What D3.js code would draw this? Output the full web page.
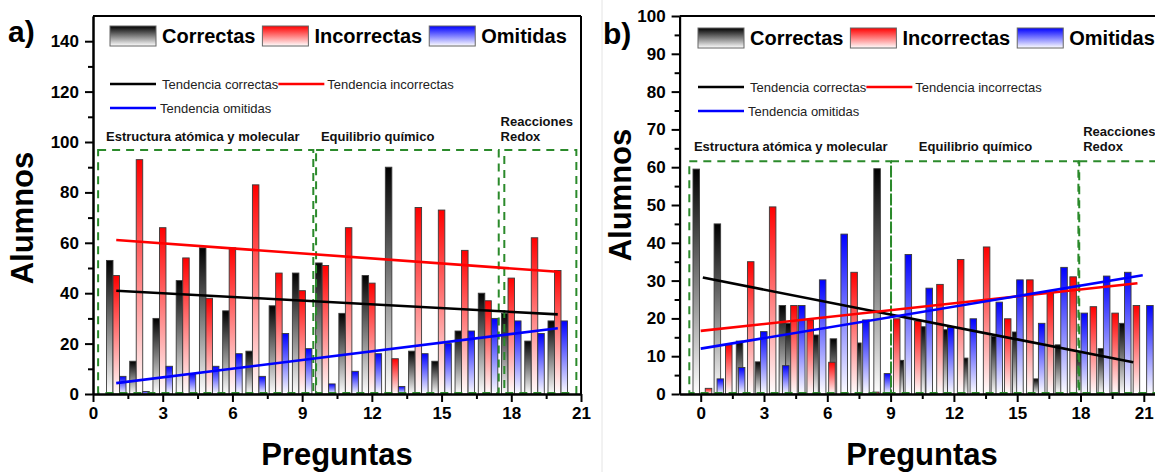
<!DOCTYPE html>
<html>
<head>
<meta charset="utf-8">
<script src="https://cdn.jsdelivr.net/npm/d3@7"></script>
<style>
body { margin: 0; background: #fff; }
svg { display: block; }
text { font-family: Arial, "Liberation Sans", sans-serif; }
</style>
</head>
<body>
<div id="chart"></div>
<script>
// ---- data ----
const seriesNames = ["Correctas", "Incorrectas", "Omitidas"];
const trendNames = ["Tendencia correctas", "Tendencia incorrectas", "Tendencia omitidas"];
const sectionNames = [["Estructura atómica y molecular"], ["Equilibrio químico"], ["Reacciones", "Redox"]];

const xTicks = [0, 3, 6, 9, 12, 15, 18, 21];
const xMinorTicks = [1.5, 4.5, 7.5, 10.5, 13.5, 16.5, 19.5];
const aYTicks = [0, 20, 40, 60, 80, 100, 120, 140];
const aYMinorTicks = [10, 30, 50, 70, 90, 110, 130];
const bYTicks = [0, 10, 20, 30, 40, 50, 60, 70, 80, 90, 100];
const bYMinorTicks = [5, 15, 25, 35, 45, 55, 65, 75, 85, 95];

// panel a) questions 1..20
const aQuestions = [1, 2, 3, 4, 5, 6, 7, 8, 9, 10, 11, 12, 13, 14, 15, 16, 17, 18, 19, 20];
const aCorrectas = [53, 13, 30, 45, 58, 33, 17, 35, 48, 52, 32, 47, 90, 17, 13, 25, 40, 32, 21, 29];
const aIncorrectas = [47, 93, 66, 54, 38, 58, 83, 48, 41, 51, 66, 44, 14, 74, 73, 57, 37, 46, 62, 49];
const aOmitidas = [7, 1, 11, 8, 11, 16, 7, 24, 18, 4, 9, 16, 3, 16, 20, 25, 30, 29, 24, 29];

const aTrendX = [1, 20];
const aTrendCorrectas = [41, 31.6];
const aTrendIncorrectas = [61.1, 48.5];
const aTrendOmitidas = [4.3, 26.1];

const aSectionStart = [0.22, 9.6, 17.7];
const aSectionEnd = [9.48, 17.46, 20.8];
const aSectionTop = [96.8, 96.8, 96.8];

// panel b) bar positions are irregular in the original
const bCorrectasX = [-0.21, 0.79, 1.84, 2.74, 3.87, 4.18, 5.42, 6.29, 7.45, 8.36, 9.46, 10.49, 11.55, 12.51, 13.92, 14.93, 15.92, 16.95, 17.9, 18.99, 20.0];
const bCorrectas = [59.5, 45, 14, 8.5, 23.4, 18.7, 15.6, 14.6, 13.5, 59.6, 8.9, 17.8, 17, 9.5, 15.2, 16.4, 4, 13, 10.8, 12, 18.7];
const bIncorrectasX = [0.37, 1.33, 2.37, 3.41, 4.42, 5.19, 6.22, 7.27, 8.3, 9.29, 10.29, 11.34, 12.32, 13.55, 14.55, 15.6, 16.57, 17.65, 18.61, 19.64, 20.65];
const bIncorrectas = [1.5, 13, 35, 49.5, 23.4, 19.6, 8.4, 32.2, 0.5, 19.9, 19.3, 29, 35.6, 38.9, 19.9, 30.2, 26.6, 31, 23.1, 21.4, 23.4];
const bOmitidasX = [0.93, 1.94, 2.99, 4.03, 4.79, 5.78, 6.8, 7.83, 8.85, 9.84, 10.83, 11.85, 12.92, 14.15, 15.13, 16.16, 17.22, 18.18, 19.24, 20.24, 21.29];
const bOmitidas = [4, 7, 16.5, 7.5, 23.4, 30.2, 42.3, 19.6, 5.4, 36.9, 28, 17.6, 19.9, 24.3, 30.2, 18.7, 33.5, 21.4, 31.2, 32.2, 23.4];

const bTrendCorrectasX = [0.1, 20.5];
const bTrendCorrectas = [30.8, 8.4];
const bTrendIncorrectasX = [0, 20.7];
const bTrendIncorrectas = [16.7, 29.3];
const bTrendOmitidasX = [0, 20.95];
const bTrendOmitidas = [12, 31.4];

const bSectionStart = [-0.54, 9.02, 17.94];
const bSectionEnd = [9.02, 17.9, 22];
const bSectionTop = [61.6, 61.6, 61.6];

// ---- styles ----
const seriesColors = ["#000000", "#ff0000", "#0000ff"];
const trendColors = ["#000000", "#ff0000", "#0000ff"];
const boxColor = "#2b8a2b";

const svg = d3.select("#chart")
.append("svg")
.attr("width", 1155)
.attr("height", 472);

// vertical gradients, colour at top fading to white
const defs = svg.append("defs");
seriesColors.forEach((c, i) => {
    const grad = defs.append("linearGradient")
    .attr("id", "grad" + i)
    .attr("x1", 0).attr("y1", 0).attr("x2", 0).attr("y2", 1);
    grad.append("stop").attr("offset", "0%").attr("stop-color", c);
    grad.append("stop").attr("offset", "100%").attr("stop-color", "#ffffff");
});

// faint border of the second picture
svg.append("line")
.attr("x1", 602).attr("x2", 602).attr("y1", 0).attr("y2", 472)
.attr("stroke", "#e4e4e4").attr("stroke-width", 1);

const panels = [
    {
        tag: "a)", tagX: 8, tagY: 42,
        left: 93, right: 581, top: 16, bottom: 394,
        xDomain: [0, 21], yDomain: [0, 150],
        yTicks: aYTicks, yMinor: aYMinorTicks, rightFrame: true,
        barWidth: 0.28,
        bars: [
            {xs: aQuestions.map(q => q - 0.28), vals: aCorrectas},
            {xs: aQuestions, vals: aIncorrectas},
            {xs: aQuestions.map(q => q + 0.28), vals: aOmitidas}
        ],
        trends: [
            {xs: aTrendX, vals: aTrendCorrectas},
            {xs: aTrendX, vals: aTrendIncorrectas},
            {xs: aTrendX, vals: aTrendOmitidas}
        ],
        secStart: aSectionStart, secEnd: aSectionEnd, secTop: aSectionTop,
        secLabelX: [0.56, 9.81, 17.54], secLabelGap: 9,
        legendX: 110, legendY: 26, trendY: 84,
        yTitleX: 33, yTitleY: 218, xTitleX: 337
    },
    {
        tag: "b)", tagX: 603, tagY: 44,
        left: 679.6, right: 1164.9, top: 16, bottom: 394,
        xDomain: [-1, 22], yDomain: [0, 100],
        yTicks: bYTicks, yMinor: bYMinorTicks, rightFrame: false,
        barWidth: 0.31,
        bars: [
            {xs: bCorrectasX, vals: bCorrectas},
            {xs: bIncorrectasX, vals: bIncorrectas},
            {xs: bOmitidasX, vals: bOmitidas}
        ],
        trends: [
            {xs: bTrendCorrectasX, vals: bTrendCorrectas},
            {xs: bTrendIncorrectasX, vals: bTrendIncorrectas},
            {xs: bTrendOmitidasX, vals: bTrendOmitidas}
        ],
        secStart: bSectionStart, secEnd: bSectionEnd, secTop: bSectionTop,
        secLabelX: [-0.32, 10.34, 18.13], secLabelGap: 10,
        legendX: 698, legendY: 28, trendY: 87,
        yTitleX: 631, yTitleY: 195, xTitleX: 922
    }
];

panels.forEach(drawPanel);

function drawPanel(p) {
    const x = d3.scaleLinear().domain(p.xDomain).range([p.left, p.right]);
    const y = d3.scaleLinear().domain(p.yDomain).range([p.bottom, p.top]);
    const bw = x(p.barWidth) - x(0);
    const g = svg.append("g");

    // bars: black first, then red, then blue on top
    p.bars.forEach((ser, si) => {
        g.selectAll(null)
        .data(ser.vals)
        .enter()
        .append("rect")
        .attr("x", (d, i) => x(ser.xs[i]) - bw / 2)
        .attr("y", d => y(d))
        .attr("width", bw)
        .attr("height", d => y(0) - y(d))
        .attr("fill", "url(#grad" + si + ")")
        .attr("stroke", "#3a3a3a")
        .attr("stroke-width", 0.9);
    });

    // dashed section boxes
    p.secStart.forEach((s, i) => {
        g.append("rect")
        .attr("x", x(s))
        .attr("y", y(p.secTop[i]))
        .attr("width", x(p.secEnd[i]) - x(s))
        .attr("height", y(0) - y(p.secTop[i]) - 1)
        .attr("fill", "none")
        .attr("stroke", boxColor)
        .attr("stroke-width", 2)
        .attr("stroke-dasharray", "8,6");

        const lines = sectionNames[i];
        lines.forEach((ln, k) => {
            g.append("text")
            .attr("x", x(p.secLabelX[i]))
            .attr("y", y(p.secTop[i]) - p.secLabelGap - (lines.length - 1 - k) * 15.5)
            .attr("font-size", 13)
            .attr("font-weight", "bold")
            .attr("fill", "#111")
            .text(ln);
        });
    });

    // trend lines
    const line = d3.line().x(d => x(d[0])).y(d => y(d[1]));
    p.trends.forEach((t, i) => {
        g.append("path")
        .datum(t.xs.map((v, k) => [v, t.vals[k]]))
        .attr("d", line)
        .attr("fill", "none")
        .attr("stroke", trendColors[i])
        .attr("stroke-width", 2.6);
    });

    // frame
    g.append("line")
    .attr("x1", p.left).attr("x2", p.right).attr("y1", p.top).attr("y2", p.top)
    .attr("stroke", "#000").attr("stroke-width", 2);
    if (p.rightFrame) {
        g.append("line")
        .attr("x1", p.right).attr("x2", p.right).attr("y1", p.top).attr("y2", p.bottom)
        .attr("stroke", "#000").attr("stroke-width", 2);
    }

    // axes
    const xAxis = d3.axisBottom(x).tickValues(xTicks).tickSize(8).tickSizeOuter(0).tickPadding(5).tickFormat(d3.format("d"));
    const xMinor = d3.axisBottom(x).tickValues(xMinorTicks).tickSize(5).tickSizeOuter(0).tickFormat("");
    const yAxis = d3.axisLeft(y).tickValues(p.yTicks).tickSize(8).tickSizeOuter(0).tickPadding(6).tickFormat(d3.format("d"));
    const yMinor = d3.axisLeft(y).tickValues(p.yMinor).tickSize(5).tickSizeOuter(0).tickFormat("");

    [[xMinor, "x"], [yMinor, "y"], [xAxis, "x"], [yAxis, "y"]].forEach(([ax, dir]) => {
        const a = g.append("g")
        .attr("transform", dir == "x" ? `translate(0,${p.bottom})` : `translate(${p.left},0)`)
        .call(ax);
        a.select(".domain").attr("stroke-width", 2);
        a.selectAll(".tick line").attr("stroke-width", 2);
        a.selectAll(".tick text")
        .attr("font-family", "Arial, 'Liberation Sans', sans-serif")
        .attr("font-size", 17)
        .attr("font-weight", "bold")
        .attr("fill", "#000");
    });

    // axis titles
    g.append("text")
    .attr("transform", `translate(${p.yTitleX},${p.yTitleY}) rotate(-90)`)
    .attr("text-anchor", "middle")
    .attr("font-size", 31)
    .attr("font-weight", "bold")
    .text("Alumnos");

    g.append("text")
    .attr("x", p.xTitleX)
    .attr("y", 465)
    .attr("text-anchor", "middle")
    .attr("font-size", 31)
    .attr("font-weight", "bold")
    .text("Preguntas");

    // panel tag
    g.append("text")
    .attr("x", p.tagX)
    .attr("y", p.tagY)
    .attr("font-size", 30)
    .attr("font-weight", "bold")
    .text(p.tag);

    // legend: bar swatches
    let lx = p.legendX;
    seriesNames.forEach((s, i) => {
        g.append("rect")
        .attr("x", lx).attr("y", p.legendY)
        .attr("width", 46).attr("height", 20)
        .attr("fill", "url(#grad" + i + ")")
        .attr("stroke", "#666").attr("stroke-width", 1);
        const t = g.append("text")
        .attr("x", lx + 52)
        .attr("y", p.legendY + 17)
        .attr("font-size", 20)
        .attr("font-weight", "bold")
        .text(s);
        lx += 52 + t.node().getComputedTextLength() + 7;
    });

    // legend: trend lines
    let tx = p.legendX;
    const textGap = [6, 3, 4];
    trendNames.forEach((n, i) => {
        if (i == 2) tx = p.legendX;
        const ly = p.trendY + (i == 2 ? 24 : 0);
        g.append("line")
        .attr("x1", tx).attr("x2", tx + 46)
        .attr("y1", ly).attr("y2", ly)
        .attr("stroke", trendColors[i]).attr("stroke-width", 2.6);
        const t = g.append("text")
        .attr("x", tx + 46 + textGap[i])
        .attr("y", ly + 4.5)
        .attr("font-size", 13)
        .attr("fill", "#222")
        .text(n);
        tx = tx + 46 + textGap[i] + t.node().getComputedTextLength();
    });
}
</script>
</body>
</html>
